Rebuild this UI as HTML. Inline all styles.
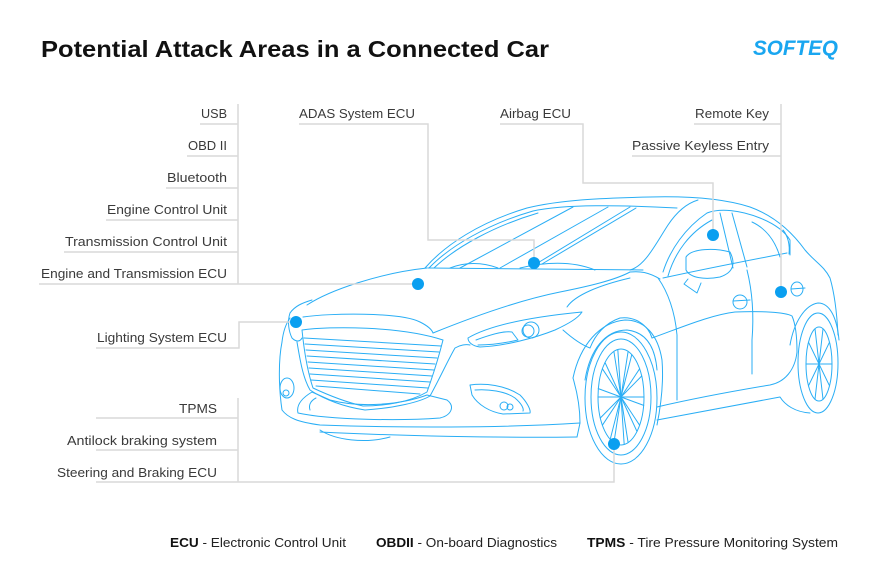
<!DOCTYPE html>
<html><head><meta charset="utf-8"><style>
html,body{margin:0;padding:0;background:#fff;}
svg{display:block;}
</style></head><body>
<svg width="880" height="582" viewBox="0 0 880 582" xmlns="http://www.w3.org/2000/svg">
<rect width="880" height="582" fill="#fff"/>
<text x="41" y="57" font-family="Liberation Sans, sans-serif" font-weight="bold" font-size="23" fill="#111" textLength="508" lengthAdjust="spacingAndGlyphs">Potential Attack Areas in a Connected Car</text>
<text x="753" y="55" font-family="Liberation Sans, sans-serif" font-weight="bold" font-style="italic" font-size="21" fill="#19a6f0" textLength="85" lengthAdjust="spacingAndGlyphs">SOFTEQ</text>

<g fill="none" stroke="#2aaef5" stroke-width="1" stroke-linejoin="round" stroke-linecap="round">
<!-- roof / windshield -->
<path d="M425,268 C445,245 480,222 527,208 C560,200 600,198 650,197 C690,196 725,199 750,207 C775,216 792,232 805,250 C815,262 824,266 830,278 C835,295 837,315 838,335"/>
<path d="M429,268 C450,246 488,224 533,211 C565,204 620,205 677,208"/>
<path d="M434,268 C456,247 494,226 538,213"/>
<path d="M428,268 L643,270"/>
<path d="M460,268 L573,207"/><path d="M500,268 L608,207"/><path d="M536,264 L630,207"/><path d="M542,264 L636,208"/>
<path d="M450,268 C465,262 482,262 498,268"/><path d="M520,268 C550,261 575,262 595,270"/>
<path d="M630,270 C645,266 655,245 668,225 C678,210 688,203 698,200"/>
<path d="M630,272 C640,271 648,272 660,279"/>
<!-- hood -->
<path d="M307,305 C330,290 380,273 427,268"/>
<path d="M290,313 C295,306 302,303 312,300"/>
<path d="M303,317 C330,313 400,312 420,322 C428,326 432,330 433,333"/>
<path d="M433,333 C470,318 520,300 560,292 C590,286 615,280 630,272"/>
<path d="M567,307 C575,295 600,285 630,278"/>
<path d="M563,330 C572,338 582,345 590,348 C595,335 605,323 620,318 C635,316 648,325 652,338"/>
<!-- headlights -->
<path d="M468,338 C490,325 530,317 582,312 C578,318 570,323 555,330 C535,338 505,346 480,347 C472,346 468,342 468,338 Z"/>
<path d="M476,340 C495,333 505,331 512,332 L518,340 C505,343 490,345 478,345"/>
<circle cx="531" cy="330" r="8"/><circle cx="528" cy="331" r="6"/>
<path d="M290,313 C287,322 289,332 292,338 C296,342 300,342 302,338"/>
<!-- grille -->
<path d="M302,330 C330,326 400,326 443,340 C438,360 432,378 427,392 C410,402 385,406 363,406 C345,402 328,395 313,388 C307,370 304,350 302,330 Z"/>
<path d="M297,342 C300,360 303,378 310,390 C325,400 345,407 365,410 C395,408 420,402 430,396 C440,378 448,360 455,348 C460,345 466,344 470,345"/>
<path d="M304,338 L441,346"/><path d="M305,344 L439,352"/><path d="M306,350 L437,358"/><path d="M307,356 L435,364"/><path d="M308,362 L434,370"/><path d="M309,368 L432,376"/><path d="M310,374 L430,382"/><path d="M311,380 L428,388"/><path d="M316,386 L420,394"/>
<!-- bumper -->
<path d="M290,318 C285,325 283,333 282,342 C278,362 279,390 282,410 C288,418 298,422 320,425 C400,428 500,428 580,423"/>
<path d="M320,432 C400,436 500,438 577,437"/>
<path d="M320,430 C335,440 365,444 390,437"/>
<path d="M573,378 C578,395 580,410 580,423 L577,437"/>
<path d="M298,413 C296,405 302,398 312,392 L330,400 C360,408 400,405 427,395 L447,400 C455,406 452,415 440,418 C400,421 330,420 298,413 Z"/>
<path d="M310,410 C308,404 312,400 316,398"/>
<ellipse cx="287" cy="388" rx="7" ry="10"/><circle cx="286" cy="393" r="3"/>
<!-- fog lamp -->
<path d="M470,385 C485,383 505,385 520,395 C527,402 531,410 530,413 L503,414 C490,412 478,405 472,395 Z"/>
<path d="M475,390 C488,389 505,391 515,398 C522,404 524,409 523,411"/>
<circle cx="504" cy="406" r="4"/><circle cx="510" cy="407" r="3"/>
<!-- front wheel -->
<path d="M573,378 C580,345 600,322 625,320 C645,320 658,335 662,360 C664,385 660,410 657,425"/>
<path d="M585,380 C590,350 605,330 627,330 C645,332 655,345 657,370"/>
<ellipse cx="621" cy="398" rx="36" ry="66"/>
<ellipse cx="621" cy="397" rx="30" ry="58"/>
<ellipse cx="621" cy="397" rx="23" ry="48"/>
<path d="M621,397 L644,397 M621,397 L639.6,425.2 M621,397 L628.1,442.6 M621,397 L613.9,442.6 M621,397 L602.4,425.2 M621,397 L598,397 M621,397 L602.4,368.8 M621,397 L613.9,351.4 M621,397 L628.1,351.4 M621,397 L639.6,368.8"/>
<path d="M621,397 L643.7,405.4 M621,397 L637,431.5 M621,397 L624.2,444.5 M621,397 L610.2,439.4 M621,397 L600.3,418 M621,397 L598.3,388.6 M621,397 L605,362.5 M621,397 L617.8,349.5 M621,397 L631.8,354.6 M621,397 L641.7,376"/>
<!-- rear wheel -->
<path d="M790,345 C794,322 805,305 818,303 C830,303 837,318 839,340"/>
<ellipse cx="818" cy="363" rx="20" ry="50"/>
<ellipse cx="819" cy="364" rx="13" ry="37"/>
<path d="M819,364 L832,364 M819,364 L829.5,385.8 M819,364 L823,399.2 M819,364 L815,399.2 M819,364 L808.5,385.8 M819,364 L806,364 M819,364 L808.5,342.2 M819,364 L815,328.8 M819,364 L823,328.8 M819,364 L829.5,342.2"/>
<!-- body side -->
<path d="M652,338 C680,328 710,315 735,312 C760,311 785,312 792,316 C796,325 797,340 797,352"/>
<path d="M657,407 C700,397 740,390 770,385 C785,382 795,370 797,352"/>
<path d="M657,420 L780,397 C785,405 795,412 810,413"/>
<path d="M658,278 C668,292 675,312 677,335 L677,400"/>
<path d="M747,270 C752,290 754,315 752,340 L752,374"/>
<path d="M663,278 C700,270 740,262 787,253"/>
<path d="M663,272 C670,250 685,228 707,213 C720,208 740,210 760,218 C775,224 785,232 790,240 L790,255"/>
<path d="M668,276 C675,252 690,232 712,220"/>
<path d="M720,213 L733,268"/><path d="M732,213 L747,267"/>
<path d="M752,222 C765,228 775,240 780,257"/>
<path d="M783,230 C788,236 790,245 789,254"/>
<path d="M686,257 C692,248 715,248 730,252 C735,262 735,272 720,277 C705,280 690,278 686,270 Z"/>
<path d="M688,279 L684,284 L697,293 L701,283"/>
<ellipse cx="740" cy="302" rx="7" ry="7"/><path d="M733,301 L750,300"/>
<ellipse cx="797" cy="289" rx="6" ry="7"/><path d="M791,289 L805,288"/>
</g>

<!-- connectors -->
<g fill="none" stroke="#d9d9d9" stroke-width="1.5">
<path d="M238,104 L238,284"/>
<path d="M200,124 L238,124 M187,156 L238,156 M166,188 L238,188 M106,220 L238,220 M64,252 L238,252 M39,284 L418,284"/>
<path d="M96,348 L239,348 L239,322 L295,322"/>
<path d="M238,398 L238,482"/>
<path d="M96,418 L238,418 M96,450 L238,450 M96,482 L614,482 L614,444"/>
<path d="M299,124 L428,124 L428,240 L534,240 L534,263"/>
<path d="M500,124 L583,124 L583,183 L713,183 L713,235"/>
<path d="M694,124 L781,124 M632,156 L781,156 M781,104 L781,292"/>
</g>

<!-- dots -->
<g fill="#0a9ff0">
<circle cx="418" cy="284" r="6"/><circle cx="534" cy="263" r="6"/><circle cx="713" cy="235" r="6"/>
<circle cx="781" cy="292" r="6"/><circle cx="296" cy="322" r="6"/><circle cx="614" cy="444" r="6"/>
</g>

<!-- labels -->
<g font-family="Liberation Sans, sans-serif" font-size="13" fill="#3a3a3a" text-anchor="end">
<text x="227" y="118" textLength="26" lengthAdjust="spacingAndGlyphs">USB</text>
<text x="227" y="150" textLength="39" lengthAdjust="spacingAndGlyphs">OBD II</text>
<text x="227" y="182" textLength="60" lengthAdjust="spacingAndGlyphs">Bluetooth</text>
<text x="227" y="214" textLength="120" lengthAdjust="spacingAndGlyphs">Engine Control Unit</text>
<text x="227" y="246" textLength="162" lengthAdjust="spacingAndGlyphs">Transmission Control Unit</text>
<text x="227" y="278" textLength="186" lengthAdjust="spacingAndGlyphs">Engine and Transmission ECU</text>
<text x="227" y="342" textLength="130" lengthAdjust="spacingAndGlyphs">Lighting System ECU</text>
<text x="217" y="413" textLength="38" lengthAdjust="spacingAndGlyphs">TPMS</text>
<text x="217" y="445" textLength="150" lengthAdjust="spacingAndGlyphs">Antilock braking system</text>
<text x="217" y="477" textLength="160" lengthAdjust="spacingAndGlyphs">Steering and Braking ECU</text>
<text x="415" y="118" textLength="116" lengthAdjust="spacingAndGlyphs">ADAS System ECU</text>
<text x="571" y="118" textLength="71" lengthAdjust="spacingAndGlyphs">Airbag ECU</text>
<text x="769" y="118" textLength="74" lengthAdjust="spacingAndGlyphs">Remote Key</text>
<text x="769" y="150" textLength="137" lengthAdjust="spacingAndGlyphs">Passive Keyless Entry</text>
</g>

<!-- legend -->
<g font-family="Liberation Sans, sans-serif" font-size="13" fill="#222">
<text x="170" y="547" textLength="176" lengthAdjust="spacingAndGlyphs"><tspan font-weight="bold" fill="#111">ECU</tspan> - Electronic Control Unit</text>
<text x="376" y="547" textLength="181" lengthAdjust="spacingAndGlyphs"><tspan font-weight="bold" fill="#111">OBDII</tspan> - On-board Diagnostics</text>
<text x="587" y="547" textLength="251" lengthAdjust="spacingAndGlyphs"><tspan font-weight="bold" fill="#111">TPMS</tspan> - Tire Pressure Monitoring System</text>
</g>
</svg>
</body></html>
